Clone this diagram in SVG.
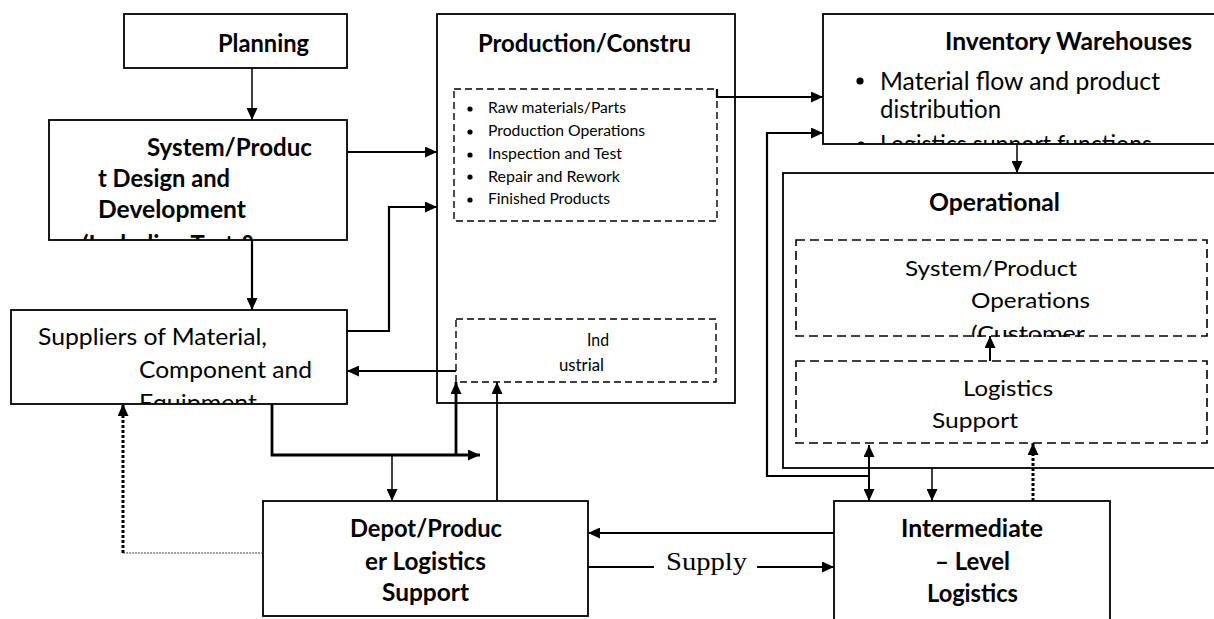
<svg xmlns="http://www.w3.org/2000/svg" width="1214" height="619" viewBox="0 0 1214 619">
<style>
.box{fill:#fff;stroke:#000;stroke-width:1.8}
.dash{fill:none;stroke:#000;stroke-width:1.6;stroke-dasharray:9,5}
.dash2{fill:none;stroke:#000;stroke-width:1.4;stroke-dasharray:7,4}
.b{font-family:Lato,"Liberation Sans",sans-serif;font-weight:bold;font-size:24px;fill:#000}
.r{font-family:Lato,"Liberation Sans",sans-serif;font-size:23px;fill:#000}
.s{font-family:Lato,"Liberation Sans",sans-serif;font-size:15.5px;fill:#000}
.c{fill:none;stroke:#000;stroke-width:2.2}
.t{fill:none;stroke:#000;stroke-width:1.5}
</style>
<defs>
<marker id="ah" markerUnits="userSpaceOnUse" markerWidth="12" markerHeight="11" refX="12" refY="5.5" orient="auto"><path d="M0,0 L12,5.5 L0,11 z" fill="#000"/></marker>
<marker id="ahs" markerUnits="userSpaceOnUse" markerWidth="12" markerHeight="11" refX="0" refY="5.5" orient="auto"><path d="M12,0 L0,5.5 L12,11 z" fill="#000"/></marker>
<clipPath id="cSys"><rect x="49" y="120" width="298" height="120"/></clipPath>
<clipPath id="cSup"><rect x="11" y="310" width="336" height="94"/></clipPath>
<clipPath id="cInv"><rect x="823" y="14" width="400" height="130"/></clipPath>
<clipPath id="cOpA"><rect x="796" y="240" width="411" height="97"/></clipPath>
</defs>

<g id="planning">
<rect class="box" x="124" y="14" width="223" height="54"/>
<text class="b" x="218" y="52" textLength="91" lengthAdjust="spacingAndGlyphs">Planning</text>
</g>

<g id="system-design">
<rect class="box" x="49" y="120" width="298" height="120"/>
<g clip-path="url(#cSys)">
<text class="b" x="147" y="156" textLength="165" lengthAdjust="spacingAndGlyphs">System/Produc</text>
<text class="b" x="98" y="187" textLength="132" lengthAdjust="spacingAndGlyphs">t Design and</text>
<text class="b" x="98" y="218" textLength="148" lengthAdjust="spacingAndGlyphs">Development</text>
<text class="b" x="82" y="253" textLength="175" lengthAdjust="spacingAndGlyphs">(Including Test &amp;</text>
</g>
</g>

<g id="suppliers">
<rect class="box" x="11" y="310" width="336" height="94"/>
<g clip-path="url(#cSup)">
<text class="r" x="38" y="345" textLength="229" lengthAdjust="spacingAndGlyphs">Suppliers of Material,</text>
<text class="r" x="139" y="378" textLength="173" lengthAdjust="spacingAndGlyphs">Component and</text>
<text class="r" x="139" y="411" textLength="118" lengthAdjust="spacingAndGlyphs">Equipment</text>
</g>
</g>

<g id="production">
<rect class="box" x="437" y="14" width="298" height="389"/>
<text class="b" x="478" y="52" textLength="213" lengthAdjust="spacingAndGlyphs">Production/Constru</text>
<rect class="dash2" x="454" y="89" width="263" height="132"/>
<circle cx="470" cy="109" r="2.6"/><circle cx="470" cy="132" r="2.6"/><circle cx="470" cy="155" r="2.6"/><circle cx="470" cy="177" r="2.6"/><circle cx="470" cy="200" r="2.6"/>
<text class="s" x="488" y="113" textLength="138" lengthAdjust="spacingAndGlyphs">Raw materials/Parts</text>
<text class="s" x="488" y="136" textLength="157" lengthAdjust="spacingAndGlyphs">Production Operations</text>
<text class="s" x="488" y="159" textLength="134" lengthAdjust="spacingAndGlyphs">Inspection and Test</text>
<text class="s" x="488" y="182" textLength="132" lengthAdjust="spacingAndGlyphs">Repair and Rework</text>
<text class="s" x="488" y="204" textLength="122" lengthAdjust="spacingAndGlyphs">Finished Products</text>
<rect class="dash2" x="456" y="319" width="260" height="63"/>
<text class="r" style="font-size:18px" x="587" y="346" textLength="22" lengthAdjust="spacingAndGlyphs">Ind</text>
<text class="r" style="font-size:18px" x="559" y="371" textLength="45" lengthAdjust="spacingAndGlyphs">ustrial</text>
</g>

<g id="inventory">
<rect class="box" x="823" y="14" width="400" height="130"/>
<text class="b" x="945" y="50" textLength="247" lengthAdjust="spacingAndGlyphs">Inventory Warehouses</text>
<g clip-path="url(#cInv)">
<circle cx="860" cy="81" r="3.6"/>
<text class="r" style="font-size:25px" x="880" y="90" textLength="280" lengthAdjust="spacingAndGlyphs">Material flow and product</text>
<text class="r" style="font-size:25px" x="880" y="118" textLength="121" lengthAdjust="spacingAndGlyphs">distribution</text>
<circle cx="861" cy="145" r="3.6"/>
<text class="r" style="font-size:25px" x="880" y="153" textLength="272" lengthAdjust="spacingAndGlyphs">Logistics support functions</text>
</g>
</g>

<g id="operational">
<rect class="box" x="783" y="173" width="440" height="295"/>
<text class="b" x="929" y="211" textLength="131" lengthAdjust="spacingAndGlyphs">Operational</text>
<rect class="dash" x="796" y="240" width="411" height="96"/>
<g clip-path="url(#cOpA)">
<text class="r" style="font-size:22px" x="905" y="276" textLength="172" lengthAdjust="spacingAndGlyphs">System/Product</text>
<text class="r" style="font-size:22px" x="971" y="308" textLength="119" lengthAdjust="spacingAndGlyphs">Operations</text>
<text class="r" style="font-size:22px" x="971" y="341" textLength="114" lengthAdjust="spacingAndGlyphs">(Customer</text>
</g>
<rect class="dash" x="796" y="361" width="411" height="82"/>
<text class="r" style="font-size:22px" x="963" y="396" textLength="90" lengthAdjust="spacingAndGlyphs">Logistics</text>
<text class="r" style="font-size:22px" x="932" y="428" textLength="86" lengthAdjust="spacingAndGlyphs">Support</text>
</g>

<g id="depot">
<rect class="box" x="263" y="501" width="325" height="115"/>
<text class="b" x="350" y="537" textLength="152" lengthAdjust="spacingAndGlyphs">Depot/Produc</text>
<text class="b" x="365" y="570" textLength="121" lengthAdjust="spacingAndGlyphs">er Logistics</text>
<text class="b" x="382" y="601" textLength="87" lengthAdjust="spacingAndGlyphs">Support</text>
</g>

<g id="intermediate">
<rect class="box" x="834" y="501" width="276" height="140"/>
<text class="b" x="901" y="537" textLength="142" lengthAdjust="spacingAndGlyphs">Intermediate</text>
<text class="b" x="935" y="570" textLength="75" lengthAdjust="spacingAndGlyphs">– Level</text>
<text class="b" x="927" y="602" textLength="91" lengthAdjust="spacingAndGlyphs">Logistics</text>
</g>

<g id="connectors">
<path class="t" d="M252,68 V120" marker-end="url(#ah)"/>
<path class="c" d="M252,240 V310" marker-end="url(#ah)"/>
<path class="c" d="M347,152 H437" marker-end="url(#ah)"/>
<path class="c" d="M347,331 H389 V207 H437" marker-end="url(#ah)"/>
<path class="c" d="M456,371 H347" marker-end="url(#ah)"/>
<path class="c" style="stroke-width:2.8" d="M272,404 V455 H480" marker-end="url(#ah)"/>
<path class="t" d="M392,455 V501" marker-end="url(#ah)"/>
<path class="c" style="stroke-width:2.8" d="M456,455 V382" marker-end="url(#ah)"/>
<path class="t" style="stroke-width:1.8" d="M497,501 V382" marker-end="url(#ah)"/>
<path d="M263,553 H123" fill="none" stroke="#444" stroke-width="1" stroke-dasharray="2,1"/>
<path d="M123,553 V404" fill="none" stroke="#000" stroke-width="3" stroke-dasharray="3,2" marker-end="url(#ah)"/>
<path class="c" d="M717,89 V97 H823" marker-end="url(#ah)"/>
<path class="c" d="M869,476 H767 V133 H823" marker-end="url(#ah)"/>
<path class="t" d="M1017,144 V173" marker-end="url(#ah)"/>
<path class="t" style="stroke-width:2" d="M990,361 V336" marker-end="url(#ah)"/>
<path class="t" style="stroke-width:2" d="M869,445 V501" marker-start="url(#ahs)" marker-end="url(#ah)"/>
<path class="t" d="M932,468 V501" marker-end="url(#ah)"/>
<path d="M1033,501 V443" fill="none" stroke="#000" stroke-width="3" stroke-dasharray="3,2" marker-end="url(#ah)"/>
<path class="c" d="M834,533 H588" marker-end="url(#ah)"/>
<path class="t" style="stroke-width:1.8" d="M588,567 H654"/>
<path class="c" d="M757,567 H834" marker-end="url(#ah)"/>
<text x="666" y="570" font-family="'Liberation Serif',serif" font-size="26" textLength="81" lengthAdjust="spacingAndGlyphs">Supply</text>
</g>
</svg>
